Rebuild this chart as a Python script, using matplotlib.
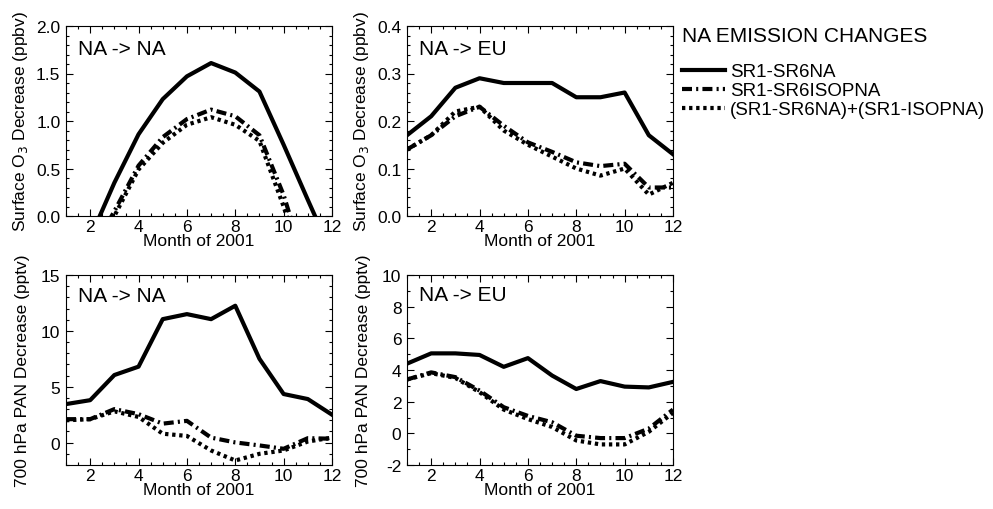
import matplotlib
matplotlib.use("Agg")
import matplotlib.pyplot as plt
from matplotlib.ticker import MultipleLocator

plt.rcParams['font.family'] = ['Liberation Sans', 'DejaVu Sans']

months = list(range(1, 13))

# surface O3 decrease (ppbv), NA -> NA
o3_na_sr6 = [-0.7, -0.23, 0.35, 0.86, 1.23, 1.47, 1.61, 1.51, 1.31, 0.75, 0.17, -0.4]
o3_na_isop = [-0.8, -0.4, 0.05, 0.53, 0.83, 1.02, 1.12, 1.05, 0.85, 0.22, -0.6, -1.0]
o3_na_sum = [-0.8, -0.42, 0.0, 0.49, 0.77, 0.96, 1.04, 0.96, 0.79, 0.10, -0.7, -1.1]

# surface O3 decrease (ppbv), NA -> EU
o3_eu_sr6 = [0.17, 0.21, 0.27, 0.29, 0.28, 0.28, 0.28, 0.25, 0.25, 0.26, 0.17, 0.13]
o3_eu_isop = [0.14, 0.17, 0.21, 0.23, 0.19, 0.155, 0.135, 0.113, 0.105, 0.11, 0.06, 0.06]
o3_eu_sum = [0.14, 0.17, 0.22, 0.23, 0.18, 0.15, 0.125, 0.10, 0.085, 0.10, 0.045, 0.07]

# 700 hPa PAN decrease (pptv), NA -> NA
pan_na_sr6 = [3.45, 3.8, 6.05, 6.8, 11.05, 11.5, 11.05, 12.25, 7.5, 4.35, 3.9, 2.5]
pan_na_isop = [2.1, 2.1, 3.0, 2.55, 1.7, 1.95, 0.45, 0.02, -0.25, -0.55, 0.4, 0.35]
pan_na_sum = [2.0, 2.1, 2.8, 2.3, 0.8, 0.6, -0.7, -1.6, -1.0, -0.7, 0.1, 0.45]

# 700 hPa PAN decrease (pptv), NA -> EU
pan_eu_sr6 = [4.4, 5.05, 5.05, 4.95, 4.2, 4.75, 3.65, 2.8, 3.3, 2.95, 2.9, 3.25]
pan_eu_isop = [3.4, 3.85, 3.55, 2.7, 1.65, 1.1, 0.7, -0.15, -0.3, -0.3, 0.3, 1.5]
pan_eu_sum = [3.4, 3.8, 3.5, 2.6, 1.5, 0.9, 0.4, -0.45, -0.7, -0.7, 0.1, 1.3]

series_labels = ['SR1-SR6NA', 'SR1-SR6ISOPNA', '(SR1-SR6NA)+(SR1-ISOPNA)']
styles = ['-', (0, (2.4, 1.0, 0.5, 1.0)), (0, (0.8, 0.9))]

o3_label = 'Surface O$_3$ Decrease (ppbv)'
pan_label = '700 hPa PAN Decrease (pptv)'

fig = plt.figure(figsize=(9.93, 5.10), dpi=100)
w, h = 266 / 993, 190 / 510
ax1 = fig.add_axes([66 / 993, 1 - 217 / 510, w, h])
ax2 = fig.add_axes([407 / 993, 1 - 217 / 510, w, h])
ax3 = fig.add_axes([66 / 993, 1 - 466 / 510, w, h])
ax4 = fig.add_axes([407 / 993, 1 - 466 / 510, w, h])

panels = [
    (ax1, [o3_na_sr6, o3_na_isop, o3_na_sum], 'NA -> NA', o3_label, (0, 2.0), 0.5, 0.1, '%.1f', 0.855),
    (ax2, [o3_eu_sr6, o3_eu_isop, o3_eu_sum], 'NA -> EU', o3_label, (0, 0.4), 0.1, 0.02, '%.1f', 0.855),
    (ax3, [pan_na_sr6, pan_na_isop, pan_na_sum], 'NA -> NA', pan_label, (-2, 15), 5, 1, '%d', 0.865),
    (ax4, [pan_eu_sr6, pan_eu_isop, pan_eu_sum], 'NA -> EU', pan_label, (-2, 10), 2, 1, '%d', 0.87),
]

handles = []
for ax, data, name, ylab, ylim, major, minor, fmt, ty in panels:
    hs = []
    for vals, ls in zip(data, styles):
        ln, = ax.plot(months, vals, color='black', lw=3, linestyle=ls)
        hs.append(ln)
    handles = hs
    ax.set_xlim(1, 12)
    ax.set_ylim(*ylim)
    ax.set_xticks([2, 4, 6, 8, 10, 12])
    ax.xaxis.set_minor_locator(MultipleLocator(0.5))
    ax.yaxis.set_major_locator(MultipleLocator(major))
    ax.yaxis.set_minor_locator(MultipleLocator(minor))
    ax.yaxis.set_major_formatter(matplotlib.ticker.FormatStrFormatter(fmt))
    ax.tick_params(which='both', direction='in', top=True, right=True, labelsize=12.5)
    ax.tick_params(axis='x', pad=2)
    ax.tick_params(axis='y', pad=4)
    ax.tick_params(which='major', length=5, width=0.8)
    ax.tick_params(which='minor', length=2.5, width=0.8)
    ax.set_xlabel('Month of 2001', fontsize=12.5)
    ax.set_ylabel(ylab, fontsize=12.5)
    ax.xaxis.set_label_coords(0.5, -0.09)
    ax.yaxis.set_label_coords(-0.135, 0.5)
    ax.text(0.045, ty, name, transform=ax.transAxes, fontsize=15, va='baseline')

leg = fig.legend(handles, series_labels, loc='upper left', bbox_to_anchor=(682 / 993, 1 - 27 / 510),
                 frameon=False, title='NA EMISSION CHANGES', alignment='left',
                 fontsize=13.5, title_fontsize=15, handlelength=2.3, handletextpad=0.25,
                 labelspacing=0.1, borderpad=0, borderaxespad=0)
leg._legend_box.sep = 13

fig.savefig('out.png', dpi=100)
